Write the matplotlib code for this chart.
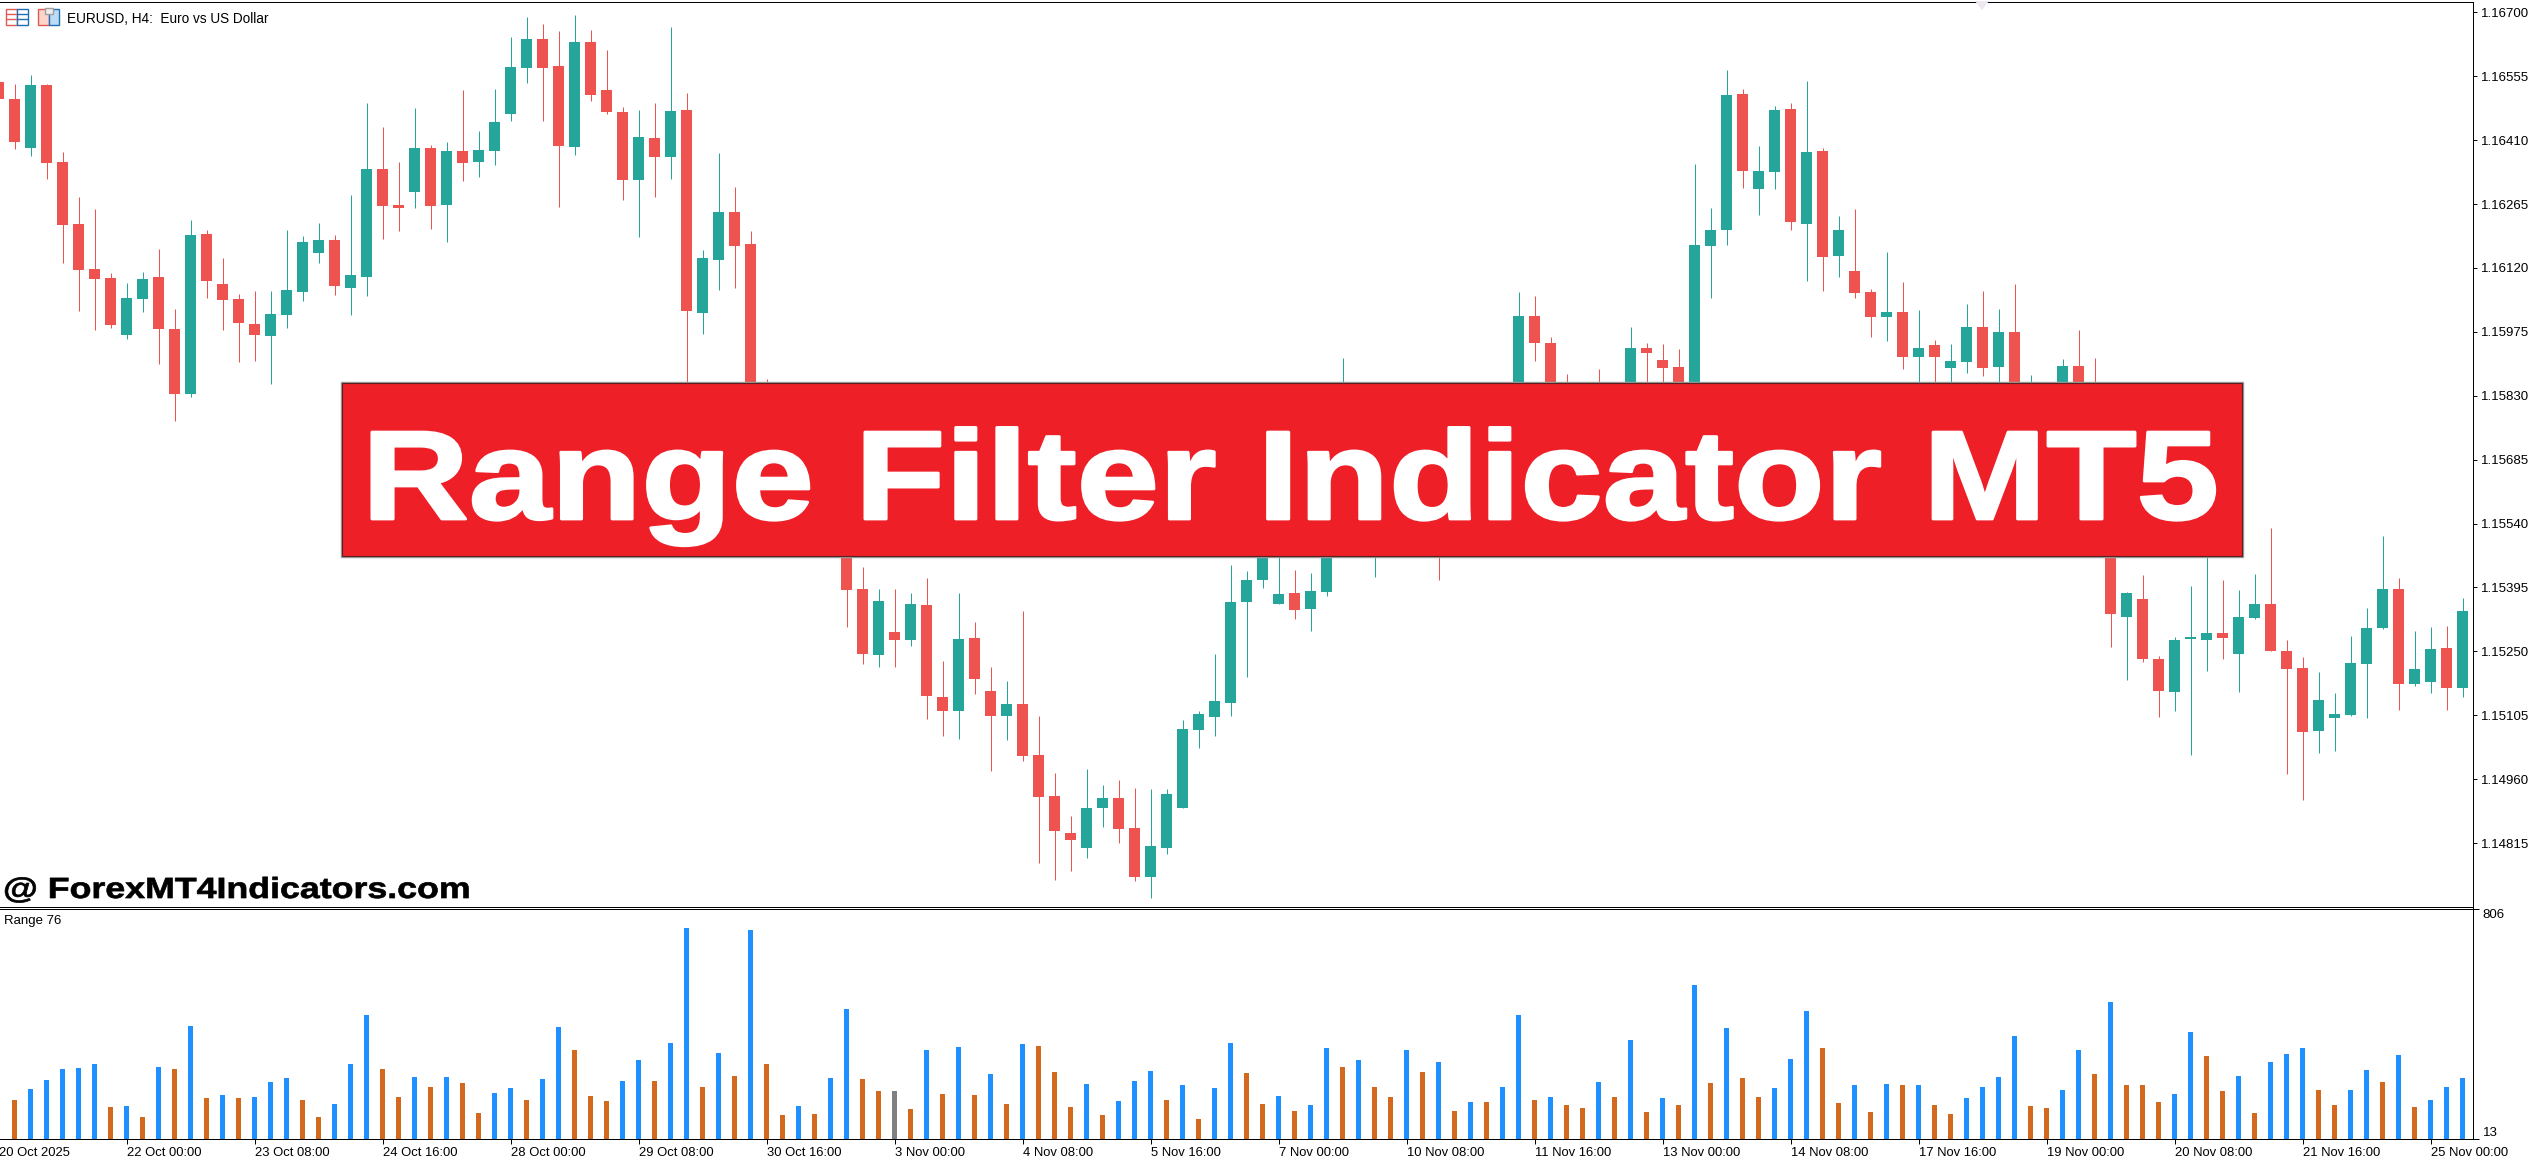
import numpy as np
import matplotlib
matplotlib.use("Agg")
import matplotlib.pyplot as plt
from matplotlib.patches import Rectangle, Polygon
from matplotlib.patheffects import AbstractPathEffect
from matplotlib.transforms import Affine2D

W, H = 2534, 1165

# H4 candles, prices in points (1.16700 = 116700)
open_pts = [
    116542, 116503, 116392, 116535, 116360, 116220, 116118, 116097, 115968, 116049,
    116099, 115981, 115834, 116197, 116084, 116050, 115993, 115966, 116013, 116065,
    116154, 116183, 116074, 116099, 116344, 116263, 116292, 116392, 116263, 116385,
    116360, 116385, 116469, 116574, 116640, 116578, 116394, 116633, 116524, 116474,
    116320, 116415, 116372, 116478, 116018, 116138, 116247, 116174, 115722, 115669,
    115616, 115661, 115639, 115548, 115391, 115241, 115294, 115275, 115355, 115146,
    115114, 115280, 115160, 115103, 115130, 115014, 114921, 114837, 114803, 114894,
    114917, 114849, 114738, 114803, 114894, 115071, 115101, 115133, 115362, 115412,
    115357, 115382, 115346, 115385, 115669, 115820, 115548, 115593, 115571, 115745,
    115654, 115556, 115608, 115646, 115631, 115745, 116011, 115950, 115828, 115798,
    115752, 115714, 115752, 115938, 115911, 115895, 115828, 116170, 116206, 116515,
    116299, 116338, 116481, 116220, 116385, 116147, 116113, 116065, 116009, 116020,
    115918, 115945, 115893, 115907, 115986, 115895, 115975, 115775, 115820, 115798,
    115897, 115745, 115714, 115328, 115368, 115232, 115157, 115278, 115275, 115291,
    115244, 115325, 115357, 115250, 115212, 115069, 115098, 115105, 115221, 115302,
    115391, 115175, 115180, 115257, 115166,
]
high_pts = [
    116546, 116537, 116558, 116537, 116383, 116281, 116254, 116108, 116086, 116111,
    116163, 116027, 116229, 116206, 116143, 116061, 116068, 116068, 116206, 116193,
    116222, 116195, 116286, 116494, 116440, 116360, 116483, 116399, 116406, 116524,
    116431, 116526, 116644, 116689, 116674, 116658, 116694, 116660, 116615, 116485,
    116478, 116494, 116667, 116517, 116161, 116381, 116304, 116204, 115868, 115684,
    115714, 115692, 115707, 115767, 115441, 115391, 115391, 115382, 115416, 115228,
    115382, 115316, 115214, 115182, 115341, 115103, 114973, 114876, 114983, 114946,
    114958, 114940, 114937, 114937, 115094, 115114, 115244, 115446, 115432, 115527,
    115518, 115435, 115428, 115702, 115916, 115835, 115612, 115654, 115835, 115798,
    115691, 115646, 115692, 115722, 115782, 116065, 116056, 115963, 115879, 115835,
    115891, 115820, 115986, 115950, 115947, 115936, 116356, 116256, 116569, 116526,
    116397, 116487, 116494, 116544, 116392, 116238, 116254, 116072, 116156, 116088,
    116025, 115956, 115947, 116038, 116068, 116027, 116084, 115877, 115851, 115913,
    115979, 115916, 115746, 115384, 115423, 115239, 115282, 115398, 115505, 115412,
    115389, 115425, 115530, 115275, 115237, 115203, 115155, 115284, 115348, 115511,
    115416, 115296, 115305, 115307, 115371,
]
low_pts = [
    116493, 116390, 116374, 116322, 116131, 116022, 115979, 115984, 115959, 116020,
    115902, 115773, 115827, 116052, 115979, 115907, 115909, 115857, 115984, 116045,
    116131, 116059, 116013, 116056, 116186, 116204, 116256, 116208, 116179, 116317,
    116326, 116354, 116453, 116540, 116453, 116258, 116376, 116499, 116469, 116274,
    116190, 116281, 116322, 115775, 115970, 116070, 116074, 115469, 115596, 115588,
    115587, 115593, 115483, 115305, 115221, 115214, 115214, 115262, 115096, 115058,
    115051, 115153, 114978, 115048, 115001, 114769, 114731, 114751, 114781, 114851,
    114815, 114728, 114690, 114790, 114894, 115030, 115058, 115103, 115192, 115394,
    115357, 115323, 115296, 115376, 115654, 115550, 115419, 115496, 115516, 115553,
    115412, 115537, 115550, 115582, 115590, 115624, 115909, 115805, 115749, 115715,
    115680, 115662, 115631, 115844, 115792, 115806, 115811, 116052, 116172, 116301,
    116240, 116299, 116206, 116090, 116068, 116099, 116052, 115963, 115954, 115891,
    115826, 115826, 115848, 115882, 115875, 115800, 115714, 115750, 115730, 115732,
    115659, 115679, 115260, 115185, 115225, 115101, 115114, 115014, 115205, 115232,
    115157, 115323, 115250, 114971, 114912, 115019, 115023, 115103, 115098, 115300,
    115116, 115171, 115155, 115116, 115146,
]
close_pts = [
    116503, 116406, 116535, 116358, 116217, 116115, 116095, 115990, 116052, 116095,
    115981, 115834, 116195, 116090, 116047, 115995, 115968, 116016, 116070, 116179,
    116183, 116079, 116104, 116344, 116260, 116256, 116392, 116260, 116385, 116358,
    116388, 116451, 116576, 116640, 116574, 116397, 116633, 116512, 116474, 116320,
    116417, 116372, 116476, 116022, 116143, 116247, 116170, 115722, 115669, 115646,
    115669, 115639, 115548, 115389, 115244, 115364, 115275, 115357, 115148, 115114,
    115278, 115187, 115103, 115130, 115012, 114919, 114842, 114821, 114894, 114917,
    114846, 114738, 114808, 114926, 115073, 115107, 115137, 115362, 115412, 115480,
    115380, 115344, 115387, 115669, 115820, 115593, 115593, 115571, 115745, 115654,
    115556, 115608, 115646, 115631, 115745, 116011, 115950, 115828, 115798, 115752,
    115714, 115752, 115938, 115927, 115893, 115828, 116172, 116206, 116512, 116340,
    116340, 116478, 116224, 116383, 116145, 116206, 116063, 116009, 116020, 115918,
    115938, 115918, 115909, 115986, 115893, 115975, 115782, 115820, 115798, 115897,
    115745, 115714, 115335, 115382, 115232, 115160, 115275, 115282, 115291, 115280,
    115328, 115357, 115250, 115210, 115067, 115139, 115107, 115223, 115302, 115391,
    115175, 115210, 115255, 115166, 115341,
]

# Range indicator, one value per candle
range_vals = [
    160, 148, 186, 217, 255, 258, 272, 123, 127, 89,
    262, 255, 403, 155, 165, 155, 158, 210, 224, 148,
    89, 134, 272, 441, 255, 158, 227, 193, 227, 206,
    103, 172, 189, 148, 220, 400, 320, 161, 144, 213,
    286, 213, 344, 742, 193, 310, 231, 735, 272, 96,
    127, 99, 224, 462, 220, 179, 179, 117, 320, 168,
    331, 165, 237, 134, 341, 334, 244, 123, 203, 96,
    144, 213, 248, 148, 199, 82, 189, 344, 241, 134,
    161, 110, 130, 327, 262, 286, 193, 158, 320, 244,
    279, 110, 141, 140, 193, 441, 148, 158, 130, 120,
    210, 158, 355, 106, 155, 130, 545, 206, 396, 224,
    158, 189, 289, 455, 327, 137, 199, 106, 203, 199,
    200, 130, 99, 155, 193, 227, 369, 127, 120, 182,
    320, 237, 486, 200, 199, 141, 168, 382, 300, 179,
    231, 103, 279, 307, 327, 182, 130, 182, 251, 210,
    303, 123, 148, 193, 224,
]

price_ticks = [116700, 116555, 116410, 116265, 116120, 115975, 115830,
               115685, 115540, 115395, 115250, 115105, 114960, 114815]
range_ticks = [13, 806]
date_positions = list(range(8, 153, 8))
date_labels = ["22 Oct 00:00", "23 Oct 08:00", "24 Oct 16:00", "28 Oct 00:00", "29 Oct 08:00",
               "30 Oct 16:00", "3 Nov 00:00", "4 Nov 08:00", "5 Nov 16:00", "7 Nov 00:00",
               "10 Nov 08:00", "11 Nov 16:00", "13 Nov 00:00", "14 Nov 08:00", "17 Nov 16:00",
               "19 Nov 00:00", "20 Nov 08:00", "21 Nov 16:00", "25 Nov 00:00"]

GREEN = "#26a69a"
RED = "#ef5350"
BLUE = "#1e90ff"
ORANGE = "#d2691e"
GRAY = "#808080"
BANNER = "#ee1f27"
ICON_RED = "#e05a50"
ICON_BLUE = "#1f6fb5"
LINE = 0.72  # one pixel at dpi 100
DATE_SIZE = 9.4

plt.rcParams["font.family"] = ["Liberation Sans", "DejaVu Sans"]


class StretchX(AbstractPathEffect):
    # the lettering is wider and heavier than any installed font
    def __init__(self, factor, x0, bold, color):
        self.factor = factor
        self.x0 = x0
        self.bold = bold
        self.color = color

    def draw_path(self, renderer, gc, tpath, affine, rgbFace=None):
        stretch = Affine2D().translate(-self.x0, 0).scale(self.factor, 1).translate(self.x0, 0)
        gc.set_linewidth(self.bold)
        gc.set_foreground(self.color)
        renderer.draw_path(gc, tpath, affine + stretch, rgbFace)


def pixel_box(left, top, right, bottom):
    return [left / W, 1 - bottom / H, (right - left) / W, (bottom - top) / H]


fig = plt.figure(figsize=(W / 100, H / 100), dpi=100, facecolor="white")
ax = fig.add_axes(pixel_box(0, 1.5, 2473, 906.5))
sub = fig.add_axes(pixel_box(0, 908.5, 2473, 1139))

x = np.arange(len(close_pts))
o, h, l, c = [np.array(a) / 1e5 for a in (open_pts, high_pts, low_pts, close_pts)]
candle_colors = [GREEN if b >= a else RED for a, b in zip(o, c)]

wicks = ax.vlines(x, l, h, colors=candle_colors, linewidth=LINE, zorder=2)
wicks.set_snap(True)
ax.bar(x, np.abs(c - o), bottom=np.minimum(o, c), width=0.69, color=candle_colors, linewidth=0, zorder=3)
ax.set_xlim(0.0875, 154.65)
ax.set_ylim(1.14671, 1.167245)
ax.set_xticks([])
ax.yaxis.tick_right()
ax.set_yticks([p / 1e5 for p in price_ticks], [f"{p / 1e5:.5f}" for p in price_ticks], fontsize=9.5)
ax.tick_params(axis="y", length=3, width=LINE, pad=3)

# rising range is blue, falling is orange, unchanged is gray
bar_colors = [BLUE]
for prev, cur in zip(range_vals, range_vals[1:]):
    bar_colors.append(BLUE if cur > prev else ORANGE if cur < prev else GRAY)
# the first bar sits left of the window edge
sub.bar(x[1:], range_vals[1:], width=0.27, color=bar_colors[1:], linewidth=0)
sub.set_xlim(ax.get_xlim())
sub.set_ylim(13, 809)
sub.yaxis.tick_right()
sub.set_yticks(range_ticks, [str(v) for v in range_ticks], fontsize=9.5)
sub.get_yticklabels()[0].set_va("bottom")
sub.get_yticklabels()[1].set_va("top")
sub.tick_params(axis="y", length=4, width=LINE, pad=3)
sub.set_xticks(date_positions, date_labels, fontsize=DATE_SIZE, ha="left")
sub.tick_params(axis="x", length=3.6, width=LINE, pad=2)
sub.annotate("20 Oct 2025", (0, 0), xycoords=("data", "axes fraction"), xytext=(0, -5.6),
             textcoords="offset points", ha="left", va="top", fontsize=DATE_SIZE, annotation_clip=False)

for a in (ax, sub):
    a.spines["left"].set_visible(False)
    for side in ("top", "right", "bottom"):
        a.spines[side].set_linewidth(LINE)

# everything that sits on top of the chart, in pixel coordinates
over = fig.add_axes([0, 0, 1, 1])
over.set_xlim(0, W)
over.set_ylim(H, 0)
over.axis("off")
over.patch.set_alpha(0)

over.add_patch(Polygon([[1975, 1], [1989, 1], [1982, 10]], color="#ece7f1", linewidth=0))

# chart window icons
over.add_patch(Rectangle((6, 9), 11, 15.5, facecolor="white", edgecolor=ICON_RED, linewidth=1))
over.add_patch(Rectangle((17, 9), 10.5, 15.5, facecolor="white", edgecolor=ICON_BLUE, linewidth=1))
for row in (13.5, 18.5):
    over.plot([7, 16], [row, row], color=ICON_RED, linewidth=1)
    over.plot([18, 27], [row, row], color=ICON_BLUE, linewidth=1)
over.add_patch(Rectangle((38, 9), 10.5, 15.5, facecolor="#fbd5cb", edgecolor=ICON_RED, linewidth=1))
over.add_patch(Rectangle((49, 9), 10, 15.5, facecolor="#bcdcf5", edgecolor=ICON_BLUE, linewidth=1))
over.add_patch(Rectangle((44.5, 8), 8.5, 6, facecolor="#eeeeee", edgecolor="#a0a0a0", linewidth=1))

over.text(67, 19, "EURUSD, H4:  Euro vs US Dollar", fontsize=9.8, ha="left", va="center")
over.text(4, 921, "Range 76", fontsize=9.5, ha="left", va="center")

over.add_patch(Rectangle((341, 381.5), 1902, 175, facecolor="none", edgecolor="#9a9a9a", linewidth=1))
over.add_patch(Rectangle((342, 382.5), 1900, 173, facecolor=BANNER, edgecolor="#5a2020", linewidth=0.8))
over.text(362, 519, "Range Filter Indicator MT5", color="white", fontsize=91, fontweight="bold",
          ha="left", va="baseline", path_effects=[StretchX(1.17, 362, 2.0, "white")])
over.text(3, 898, "@ ForexMT4Indicators.com", color="black", fontsize=21, fontweight="bold",
          ha="left", va="baseline", path_effects=[StretchX(1.225, 3, 0.5, "black")])

fig.savefig("out.png", dpi=100)
